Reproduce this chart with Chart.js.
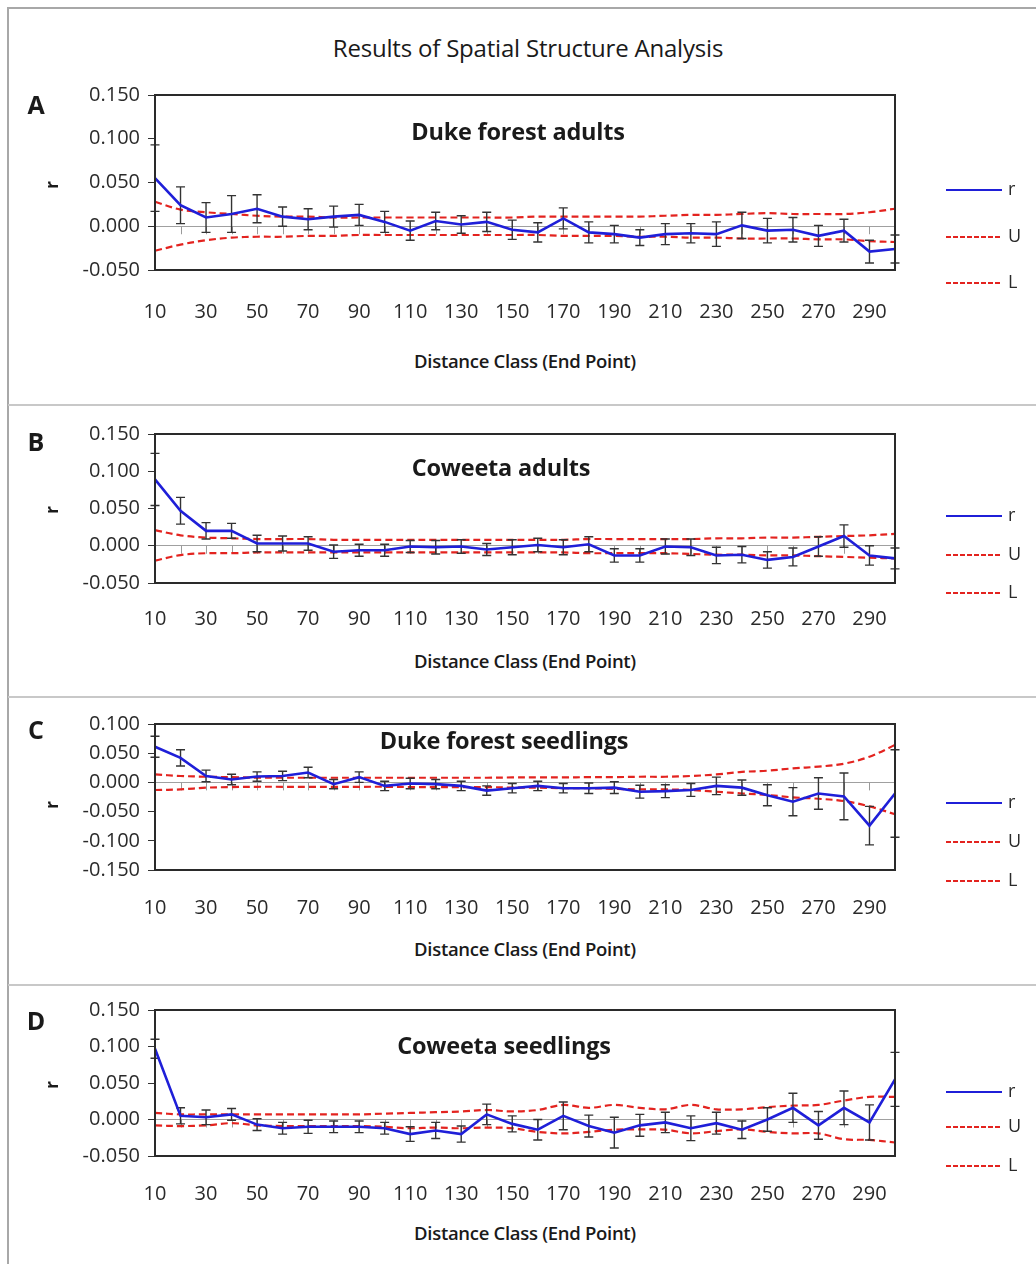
<!DOCTYPE html>
<html>
<head>
<meta charset="utf-8">
<script src="https://cdn.jsdelivr.net/npm/chart.js@4.4.1/dist/chart.umd.min.js"></script>
<style>
    body { margin: 0; background: #fff; }
    #page { position: relative; width: 1036px; height: 1264px; overflow: hidden; font-family: 'Open Sans', sans-serif; color: #1a1a1a; }
    .frame { position: absolute; left: 7px; top: 7px; width: 1200px; height: 1400px; border-left: 2px solid #a8a8a8; border-top: 2px solid #a8a8a8; }
    .sep { position: absolute; left: 8px; width: 1100px; border-top: 2px solid #c8c8c8; }
    .holder { position: absolute; left: 0; width: 1036px; }
    .txt { position: absolute; white-space: nowrap; transform: translate(-50%, -50%); }
    .letter { font-weight: 700; font-size: 25px; }
    .ptitle { font-weight: 700; font-size: 23.5px; letter-spacing: -0.2px; }
    .xtitle { font-weight: 600; font-size: 18.5px; letter-spacing: -0.3px; }
    .ytitle { font-weight: 700; font-size: 17px; transform: translate(-50%, -50%) rotate(-90deg); }
    .main { font-size: 24px; letter-spacing: -0.2px; }
</style>
</head>
<body>
<div id="page">
    <div class="frame"></div>
    <div class="sep" style="top:404px"></div>
    <div class="sep" style="top:696px"></div>
    <div class="sep" style="top:984px"></div>
    <div class="txt main" style="left:528px;top:47px">Results of Spatial Structure Analysis</div>
</div>
<script>
// Distance classes (end point)
const distances = ['10', '20', '30', '40', '50', '60', '70', '80', '90', '100',
    '110', '120', '130', '140', '150', '160', '170', '180', '190', '200',
    '210', '220', '230', '240', '250', '260', '270', '280', '290', '300'];

// A - Duke forest adults
const rA = [0.055, 0.024, 0.010, 0.014, 0.020, 0.011, 0.008, 0.011, 0.013, 0.005,
    -0.005, 0.006, 0.002, 0.005, -0.004, -0.007, 0.009, -0.007, -0.009, -0.013,
    -0.009, -0.008, -0.009, 0.001, -0.005, -0.004, -0.011, -0.005, -0.029, -0.026];
const errA = [0.038, 0.021, 0.017, 0.021, 0.016, 0.011, 0.012, 0.012, 0.012, 0.012,
    0.011, 0.010, 0.010, 0.011, 0.011, 0.011, 0.012, 0.012, 0.010, 0.009,
    0.012, 0.011, 0.014, 0.015, 0.014, 0.014, 0.012, 0.013, 0.013, 0.016];
const uA = [0.028, 0.019, 0.016, 0.014, 0.012, 0.011, 0.011, 0.010, 0.010, 0.010,
    0.010, 0.010, 0.010, 0.010, 0.010, 0.011, 0.011, 0.011, 0.011, 0.011,
    0.012, 0.013, 0.013, 0.014, 0.015, 0.014, 0.014, 0.014, 0.016, 0.020];
const lA = [-0.028, -0.021, -0.016, -0.013, -0.012, -0.012, -0.011, -0.011, -0.010, -0.010,
    -0.010, -0.010, -0.010, -0.010, -0.010, -0.010, -0.011, -0.011, -0.011, -0.012,
    -0.012, -0.013, -0.013, -0.014, -0.014, -0.014, -0.015, -0.015, -0.017, -0.018];

// B - Coweeta adults
const rB = [0.089, 0.047, 0.020, 0.020, 0.003, 0.003, 0.003, -0.008, -0.006, -0.006,
    -0.001, -0.002, -0.001, -0.005, -0.002, 0.001, -0.002, 0.002, -0.013, -0.013,
    -0.001, -0.002, -0.013, -0.012, -0.019, -0.015, -0.001, 0.013, -0.013, -0.017];
const errB = [0.035, 0.018, 0.011, 0.010, 0.011, 0.010, 0.009, 0.009, 0.008, 0.008,
    0.008, 0.009, 0.009, 0.008, 0.010, 0.009, 0.010, 0.010, 0.009, 0.009,
    0.010, 0.011, 0.011, 0.011, 0.011, 0.012, 0.013, 0.015, 0.013, 0.014];
const uB = [0.021, 0.014, 0.011, 0.010, 0.009, 0.009, 0.009, 0.008, 0.008, 0.008,
    0.008, 0.008, 0.008, 0.008, 0.008, 0.008, 0.008, 0.009, 0.009, 0.009,
    0.009, 0.009, 0.010, 0.010, 0.011, 0.011, 0.012, 0.013, 0.014, 0.016];
const lB = [-0.020, -0.0125, -0.010, -0.010, -0.009, -0.009, -0.009, -0.009, -0.009, -0.009,
    -0.009, -0.009, -0.009, -0.009, -0.009, -0.009, -0.009, -0.010, -0.010, -0.010,
    -0.010, -0.011, -0.012, -0.012, -0.013, -0.013, -0.014, -0.015, -0.016, -0.017];

// C - Duke forest seedlings
const rC = [0.061, 0.042, 0.011, 0.005, 0.010, 0.011, 0.017, -0.003, 0.009, -0.006,
    -0.002, -0.003, -0.006, -0.014, -0.010, -0.006, -0.010, -0.010, -0.009, -0.016,
    -0.015, -0.013, -0.006, -0.009, -0.022, -0.033, -0.019, -0.024, -0.074, -0.019];
const errC = [0.018, 0.014, 0.010, 0.009, 0.008, 0.008, 0.009, 0.008, 0.009, 0.008,
    0.009, 0.008, 0.008, 0.008, 0.008, 0.008, 0.008, 0.009, 0.010, 0.011,
    0.011, 0.011, 0.015, 0.013, 0.018, 0.024, 0.027, 0.040, 0.033, 0.075];
const uC = [0.0136, 0.011, 0.0097, 0.009, 0.008, 0.008, 0.008, 0.008, 0.008, 0.008,
    0.008, 0.008, 0.008, 0.008, 0.0085, 0.0085, 0.0085, 0.009, 0.009, 0.0097,
    0.0097, 0.011, 0.0136, 0.018, 0.020, 0.024, 0.027, 0.032, 0.044, 0.064];
const lC = [-0.013, -0.012, -0.009, -0.008, -0.0075, -0.0075, -0.0075, -0.0075, -0.0075, -0.0075,
    -0.008, -0.008, -0.008, -0.008, -0.009, -0.009, -0.010, -0.010, -0.011, -0.012,
    -0.012, -0.013, -0.016, -0.019, -0.0216, -0.0256, -0.028, -0.032, -0.041, -0.0545];

// D - Coweeta seedlings
const rD = [0.097, 0.005, 0.003, 0.007, -0.007, -0.012, -0.010, -0.010, -0.010, -0.012,
    -0.020, -0.015, -0.020, 0.007, -0.006, -0.014, 0.005, -0.009, -0.018, -0.008,
    -0.004, -0.012, -0.005, -0.014, 0.000, 0.016, -0.008, 0.016, -0.004, 0.055];
const errD = [0.013, 0.011, 0.010, 0.008, 0.008, 0.008, 0.009, 0.008, 0.008, 0.008,
    0.010, 0.011, 0.011, 0.014, 0.011, 0.014, 0.019, 0.015, 0.021, 0.015,
    0.014, 0.017, 0.015, 0.012, 0.016, 0.020, 0.019, 0.023, 0.024, 0.037];
const uD = [0.009, 0.007, 0.007, 0.007, 0.007, 0.007, 0.007, 0.007, 0.007, 0.008,
    0.009, 0.010, 0.011, 0.013, 0.011, 0.013, 0.020, 0.016, 0.020, 0.016,
    0.014, 0.020, 0.014, 0.014, 0.017, 0.019, 0.020, 0.026, 0.031, 0.031];
const lD = [-0.008, -0.009, -0.008, -0.005, -0.008, -0.009, -0.009, -0.009, -0.009, -0.010,
    -0.012, -0.011, -0.012, -0.011, -0.012, -0.017, -0.019, -0.017, -0.014, -0.0135,
    -0.014, -0.019, -0.016, -0.0135, -0.017, -0.019, -0.019, -0.027, -0.028, -0.0315];

const seriesNames = ['r', 'U', 'L'];
const BLUE = '#1f1fd8';
const RED = '#e3231f';

// page layout for each panel (pixels)
const panels = [
    { letter: 'A', title: 'Duke forest adults', r: rA, err: errA, u: uA, l: lA, yMin: -0.05, yMax: 0.15,
      top: 70, plotTop: 95, plotBottom: 270, tickPad: 22, titleXY: [518, 131], letterY: 104, rY: 185,
      xTitleY: 360, legendY: [190, 237, 283] },
    { letter: 'B', title: 'Coweeta adults', r: rB, err: errB, u: uB, l: lB, yMin: -0.05, yMax: 0.15,
      top: 412, plotTop: 434, plotBottom: 583, tickPad: 16, titleXY: [501, 467], letterY: 441, rY: 510,
      xTitleY: 660, legendY: [516, 555, 593] },
    { letter: 'C', title: 'Duke forest seedlings', r: rC, err: errC, u: uC, l: lC, yMin: -0.15, yMax: 0.10,
      top: 703, plotTop: 724, plotBottom: 870, tickPad: 18, titleXY: [504, 740], letterY: 729, rY: 805,
      xTitleY: 948, legendY: [803, 842, 881] },
    { letter: 'D', title: 'Coweeta seedlings', r: rD, err: errD, u: uD, l: lD, yMin: -0.05, yMax: 0.15,
      top: 990, plotTop: 1008, plotBottom: 1156, tickPad: 18, titleXY: [504, 1045], letterY: 1020, rY: 1085,
      xTitleY: 1232, legendY: [1092, 1127, 1166] }
];

const PLOT_LEFT = 155;
const PLOT_RIGHT = 895;
const X_AXIS_H = 60;

Chart.defaults.font.family = "'Open Sans', sans-serif";
Chart.defaults.color = '#2a2a2a';

// zero-line ticks, error bars and the frame round the plot
const errorBars = {
    id: 'errorBars',
    beforeDatasetsDraw(chart) {
        const xs = chart.scales.x, ys = chart.scales.y, ctx = chart.ctx;
        const y0 = ys.getPixelForValue(0);
        ctx.save();
        ctx.strokeStyle = '#9a9a9a';
        ctx.lineWidth = 1;
        distances.forEach((d, i) => {
            const x = Math.round(xs.getPixelForValue(i)) + 0.5;
            ctx.beginPath();
            ctx.moveTo(x, y0);
            ctx.lineTo(x, y0 + 8);
            ctx.stroke();
        });
        ctx.restore();
    },
    afterDatasetDraw(chart, args, opts) {
        if (args.index !== 1) return;
        const xs = chart.scales.x, ys = chart.scales.y, ctx = chart.ctx;
        const vals = chart.data.datasets[0].data;
        ctx.save();
        ctx.strokeStyle = '#333';
        ctx.lineWidth = 1.4;
        vals.forEach((v, i) => {
            const x = xs.getPixelForValue(i);
            const top = ys.getPixelForValue(v + opts.err[i]);
            const bot = ys.getPixelForValue(v - opts.err[i]);
            ctx.beginPath();
            ctx.moveTo(x, top); ctx.lineTo(x, bot);
            ctx.moveTo(x - 4.5, top); ctx.lineTo(x + 4.5, top);
            ctx.moveTo(x - 4.5, bot); ctx.lineTo(x + 4.5, bot);
            ctx.stroke();
        });
        ctx.restore();
    },
    afterDraw(chart) {
        const a = chart.chartArea, ctx = chart.ctx;
        ctx.save();
        ctx.strokeStyle = '#2a2a2a';
        ctx.lineWidth = 2;
        ctx.strokeRect(a.left, a.top, a.right - a.left, a.bottom - a.top);
        ctx.restore();
    }
};

// legend at the right, one row per series
const sideLegend = {
    id: 'sideLegend',
    afterDraw(chart, args, opts) {
        const ctx = chart.ctx;
        chart.data.datasets.forEach((ds, i) => {
            const y = opts.ys[i];
            ctx.save();
            ctx.strokeStyle = ds.borderColor;
            ctx.lineWidth = 2;
            ctx.setLineDash(ds.borderDash ? [5, 2] : []);
            ctx.beginPath();
            ctx.moveTo(946, y);
            ctx.lineTo(1002, y);
            ctx.stroke();
            ctx.setLineDash([]);
            ctx.fillStyle = '#2a2a2a';
            ctx.font = "18px 'Open Sans'";
            ctx.textBaseline = 'middle';
            ctx.fillText(ds.label, 1008, y);
            ctx.restore();
        });
    }
};

const page = document.getElementById('page');

function addText(cls, text, x, y) {
    const el = document.createElement('div');
    el.className = 'txt ' + cls;
    el.style.left = x + 'px';
    el.style.top = y + 'px';
    el.textContent = text;
    page.appendChild(el);
}

panels.forEach(p => {
    const height = p.plotBottom - p.top + X_AXIS_H;
    const holder = document.createElement('div');
    holder.className = 'holder';
    holder.style.top = p.top + 'px';
    holder.style.height = height + 'px';
    const canvas = document.createElement('canvas');
    holder.appendChild(canvas);
    page.appendChild(holder);

    new Chart(canvas, {
        type: 'line',
        data: {
            labels: distances,
            datasets: [
                { label: seriesNames[0], data: p.r, borderColor: BLUE, borderWidth: 2.6, pointRadius: 0, tension: 0 },
                { label: seriesNames[1], data: p.u, borderColor: RED, borderWidth: 2.2, borderDash: [7, 4], pointRadius: 0, tension: 0.35 },
                { label: seriesNames[2], data: p.l, borderColor: RED, borderWidth: 2.2, borderDash: [7, 4], pointRadius: 0, tension: 0.35 }
            ]
        },
        options: {
            responsive: true,
            maintainAspectRatio: false,
            animation: false,
            events: [],
            layout: { padding: { top: p.plotTop - p.top, left: 0, right: 1036 - PLOT_RIGHT, bottom: 0 } },
            plugins: {
                legend: { display: false },
                tooltip: { enabled: false },
                errorBars: { err: p.err },
                sideLegend: { ys: p.legendY.map(y => y - p.top) }
            },
            scales: {
                x: {
                    type: 'category',
                    offset: false,
                    grid: { display: false },
                    border: { display: false },
                    ticks: {
                        autoSkip: false,
                        maxRotation: 0,
                        padding: p.tickPad,
                        font: { size: 20 },
                        callback: (v, i) => (i % 2 === 0 ? distances[i] : '')
                    },
                    afterFit: s => { s.height = X_AXIS_H; }
                },
                y: {
                    min: p.yMin,
                    max: p.yMax,
                    border: { display: false },
                    grid: {
                        drawTicks: true,
                        tickLength: 7,
                        tickColor: '#333',
                        color: c => (c.tick && Math.abs(c.tick.value) < 1e-9 ? '#a0a0a0' : 'rgba(0,0,0,0)'),
                        lineWidth: 1
                    },
                    ticks: {
                        stepSize: 0.05,
                        padding: 8,
                        font: { size: 20 },
                        callback: v => v.toFixed(3)
                    },
                    afterFit: s => { s.width = PLOT_LEFT; }
                }
            }
        },
        plugins: [errorBars, sideLegend]
    });

    addText('letter', p.letter, 36, p.letterY);
    addText('ytitle', 'r', 51, p.rY);
    addText('ptitle', p.title, p.titleXY[0], p.titleXY[1]);
    addText('xtitle', 'Distance Class (End Point)', 525, p.xTitleY);
});
</script>
</body>
</html>
